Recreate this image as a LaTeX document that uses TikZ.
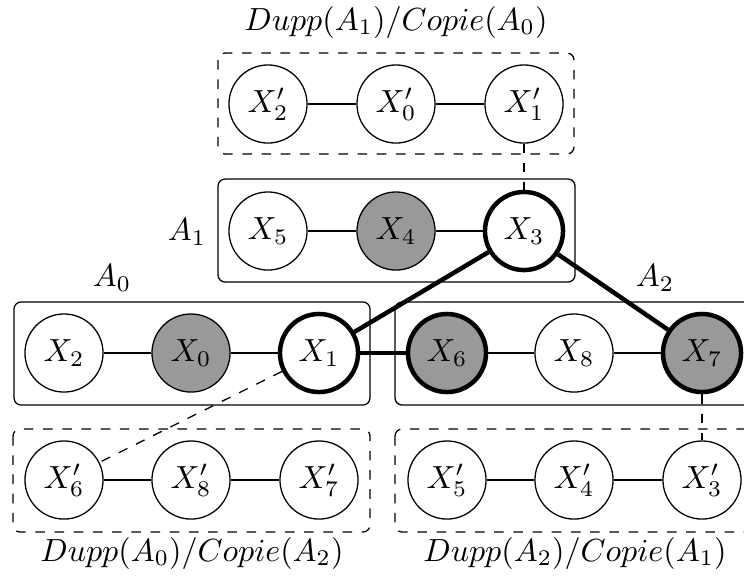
\documentclass[tikz,border=0pt]{standalone}
\begin{document}
\begin{tikzpicture}[x=0.3125pt,y=-0.3125pt,
  var/.style={circle,draw,fill=white,minimum size=24.4pt,inner sep=0pt,line width=0.4pt},
  obs/.style={var,fill=black!40},
  hot/.style={line width=1.4pt},
  grp/.style={draw,rounded corners=2.2pt,line width=0.4pt},
  dgrp/.style={grp,dashed},
  link/.style={line width=0.4pt},
  dlink/.style={line width=0.4pt,dashed},
  strong/.style={line width=1.4pt}]
\useasboundingbox (0,0) rectangle (744,575);
% group boxes
\draw[dgrp] (218,53) rectangle (574,154);
\draw[grp]  (218,179) rectangle (575,282);
\draw[grp]  (14,302) rectangle (370,405);
\draw[grp]  (395,302) rectangle (754,405);
\draw[dgrp] (13,429) rectangle (370,532);
\draw[dgrp] (395,429) rectangle (754,532);
% labels
\node (l1) at (396,22) {$Dupp(A_1)/Copie(A_0)$};
\node (lA1) at (187,232) {$A_1$};
\node (lA0) at (112,278) {$A_0$};
\node (lA2) at (655,278) {$A_2$};
\node (l2) at (192,553) {$Dupp(A_0)/Copie(A_2)$};
\node (l3) at (575,553) {$Dupp(A_2)/Copie(A_1)$};
% top row
\node[var] (p2) at (268,104) {$X_2'$};
\node[var] (p0) at (396,104) {$X_0'$};
\node[var] (p1) at (524,104) {$X_1'$};
% A1 row
\node[var] (x5) at (268,231) {$X_5$};
\node[obs] (x4) at (396,231) {$X_4$};
\node[var,hot] (x3) at (524,231) {$X_3$};
% A0 row
\node[var] (x2) at (64,353) {$X_2$};
\node[obs] (x0) at (191,353) {$X_0$};
\node[var,hot] (x1) at (319,353) {$X_1$};
% A2 row
\node[obs,hot] (x6) at (447,353) {$X_6$};
\node[var] (x8) at (574,353) {$X_8$};
\node[obs,hot] (x7) at (702,353) {$X_7$};
% bottom rows
\node[var] (p6) at (64,480) {$X_6'$};
\node[var] (p8) at (191,480) {$X_8'$};
\node[var] (p7) at (319,480) {$X_7'$};
\node[var] (p5) at (447,480) {$X_5'$};
\node[var] (p4) at (574,480) {$X_4'$};
\node[var] (p3) at (702,480) {$X_3'$};
% thin links
\draw[link] (p2) -- (p0);
\draw[link] (p0) -- (p1);
\draw[link] (x5) -- (x4);
\draw[link] (x4) -- (x3);
\draw[link] (x2) -- (x0);
\draw[link] (x0) -- (x1);
\draw[link] (x6) -- (x8);
\draw[link] (x8) -- (x7);
\draw[link] (p6) -- (p8);
\draw[link] (p8) -- (p7);
\draw[link] (p5) -- (p4);
\draw[link] (p4) -- (p3);
% strong links
\draw[strong] (x3) -- (x1);
\draw[strong] (x3) -- (x7);
\draw[strong] (x1) -- (x6);
% dashed links
\draw[dlink] (p1) -- (x3);
\draw[dlink] (x1) -- (p6);
\draw[dlink] (x7) -- (p3);
\end{tikzpicture}
\end{document}
